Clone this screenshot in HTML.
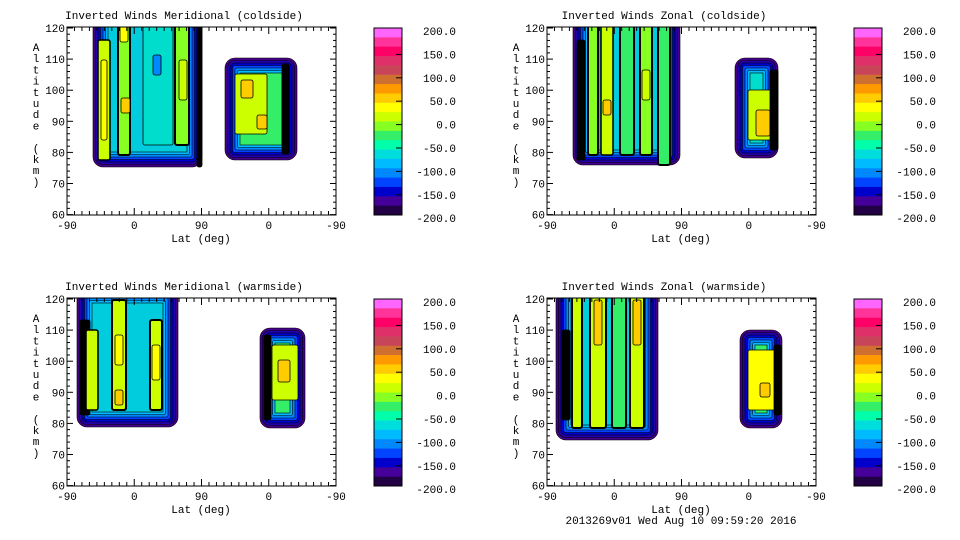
<!DOCTYPE html>
<html><head><meta charset="utf-8"><style>
body{margin:0;background:#fff;}
svg{display:block;font-family:"Liberation Mono","DejaVu Sans Mono",monospace;}
</style></head><body>
<svg id="s" width="960" height="540" xmlns="http://www.w3.org/2000/svg"></svg>
<script>
const S=document.getElementById('s');let h='';
const cols=['#ff66ff','#ff3399','#ff0066','#e0306a','#c84458','#d07030','#ff9900','#ffcc00','#ffff00','#ccff00','#88ff22','#33ee66','#00ffaa','#00dddd','#00bbff','#0088ff','#0044ff','#0000cc','#440099','#220044'];
function blob(x,y,w,ht,inner,stripes){
 const ring=['#440088','#2200aa','#0000cc','#0044ff','#0088ff','#00bbff'];
 let r='';
 ring.forEach((c,i)=>{const d=i*2.5;r+=`<rect x="${x+d}" y="${y+d}" width="${w-2*d}" height="${ht-2*d}" rx="${Math.max(2,10-d)}" fill="${c}" stroke="#000" stroke-width="0.6"/>`;});
 const d=15;
 r+=`<rect x="${x+d}" y="${y+d}" width="${w-2*d}" height="${ht-2*d}" fill="${inner}" stroke="#000" stroke-width="0.6"/>`;
 stripes.forEach(s=>{r+=`<rect x="${s[0]}" y="${s[1]}" width="${s[2]}" height="${s[3]}" rx="2" fill="${s[4]}" stroke="#000" stroke-width="${s[5]||0.8}"/>`;});
 return r;
}
function panel(ox,oy,title,blobs){
 let r='';
 r+=`<text x="${ox+117}" y="${oy-8}" font-size="11" text-anchor="middle">${title}</text>`;
 r+=`<clipPath id="c${ox}${oy}"><rect x="${ox}" y="${oy}" width="269" height="188"/></clipPath>`;
 r+=`<g clip-path="url(#c${ox}${oy})">${blobs}</g>`;
 r+=`<rect x="${ox}" y="${oy}" width="269" height="188" fill="none" stroke="#000" stroke-width="1"/>`;
 for(let i=0;i<=6;i++){const yy=oy+1+i*31.1;const v=120-i*10;
  r+=`<line x1="${ox}" y1="${yy}" x2="${ox+6}" y2="${yy}" stroke="#000"/><line x1="${ox+269}" y1="${yy}" x2="${ox+263}" y2="${yy}" stroke="#000"/>`;
  r+=`<text x="${ox-2}" y="${yy+4}" font-size="11" text-anchor="end">${v}</text>`;
  if(i<6)for(let k=1;k<5;k++){const y2=yy+k*6.22;r+=`<line x1="${ox}" y1="${y2}" x2="${ox+3}" y2="${y2}" stroke="#000"/><line x1="${ox+269}" y1="${y2}" x2="${ox+266}" y2="${y2}" stroke="#000"/>`;}
 }
 const xl=['-90','0','90','0','-90'];
 for(let i=0;i<=4;i++){const xx=ox+i*67.25;
  r+=`<line x1="${xx}" y1="${oy+188}" x2="${xx}" y2="${oy+181}" stroke="#000"/><line x1="${xx}" y1="${oy}" x2="${xx}" y2="${oy+7}" stroke="#000"/>`;
  r+=`<text x="${xx}" y="${oy+202}" font-size="11" text-anchor="middle">${xl[i]}</text>`;
  if(i<4)for(let k=1;k<9;k++){const x2=xx+k*67.25/9;r+=`<line x1="${x2}" y1="${oy+188}" x2="${x2}" y2="${oy+184}" stroke="#000"/><line x1="${x2}" y1="${oy}" x2="${x2}" y2="${oy+4}" stroke="#000"/>`;}
 }
 r+=`<text x="${ox+134}" y="${oy+215}" font-size="11" text-anchor="middle">Lat (deg)</text>`;
 const lab='Altitude (km)';
 for(let i=0;i<lab.length;i++)r+=`<text x="${ox-31}" y="${oy+24+i*11.2}" font-size="11" text-anchor="middle">${lab[i]}</text>`;
 const bx=ox+307,by=oy+1,bh=187;
 cols.forEach((c,i)=>{r+=`<rect x="${bx}" y="${by+i*bh/20}" width="28" height="${bh/20+0.5}" fill="${c}"/>`;});
 r+=`<rect x="${bx}" y="${by}" width="28" height="${bh}" fill="none" stroke="#000"/>`;
 const cl=['200.0','150.0','100.0','50.0','0.0','-50.0','-100.0','-150.0','-200.0'];
 cl.forEach((t,i)=>{const yy=by+3+i*23.4;r+=`<text x="${ox+389}" y="${yy+4}" font-size="11" text-anchor="end">${t}</text>`;if(i>0&&i<8)r+=`<line x1="${bx+22}" y1="${yy}" x2="${bx+28}" y2="${yy}" stroke="#000"/>`;});
 return r;
}
let b1=blob(93,12,109,155,'#00ccdd',[[98,40,12,120,'#ccff00',1.5],[101,60,6,80,'#ffff00'],[118,12,12,143,'#88ff22',2],[121,98,9,15,'#ffcc00'],[120,22,8,20,'#ffff00'],[143,12,30,133,'#00ddcc'],[153,55,8,20,'#0088ff'],[175,12,14,133,'#88ff22',2],[179,60,8,40,'#ccff00'],[197,12,5,155,'#000']])
 +blob(225,58,72,102,'#33ee66',[[235,74,32,60,'#ccff00'],[241,80,12,18,'#ffcc00'],[257,115,10,14,'#ffcc00'],[282,64,7,90,'#000',0]]);
h+=panel(67,27,'Inverted Winds Meridional (coldside)',b1);
let b2=blob(573,12,107,153,'#00ccdd',[[577,40,8,120,'#000',0],[588,12,10,143,'#88ff22',2],[601,12,12,143,'#ccff00',1.5],[603,100,8,15,'#ffcc00'],[620,12,14,143,'#33ee66',2],[640,12,12,143,'#88ff22',2],[642,70,8,30,'#ccff00'],[658,12,12,153,'#33ee66',2]])
 +blob(735,58,43,100,'#00ddcc',[[748,90,25,50,'#ccff00'],[756,110,14,26,'#ffcc00'],[770,70,8,80,'#000',0]]);
h+=panel(547,27,'Inverted Winds Zonal (coldside)',b2);
let b3=blob(77,288,101,139,'#00ccdd',[[80,320,10,95,'#000',0],[86,330,12,80,'#ccff00',1.5],[112,300,14,110,'#ccff00',2],[115,335,8,30,'#ffff00'],[115,390,8,15,'#ffcc00'],[150,320,12,90,'#ccff00',2],[152,345,8,35,'#ffff00']])
 +blob(260,328,45,100,'#33ee66',[[264,335,7,85,'#000',0],[272,345,26,55,'#ccff00'],[278,360,12,22,'#ffcc00']]);
h+=panel(67,298,'Inverted Winds Meridional (warmside)',b3);
let b4=blob(556,283,102,157,'#00ccdd',[[562,330,8,90,'#000',0],[572,285,10,143,'#ccff00',2],[590,285,16,143,'#ccff00',2],[594,300,8,45,'#ffcc00'],[612,285,14,143,'#33ee66',2],[630,285,14,143,'#ccff00',2],[633,300,8,45,'#ffcc00']])
 +blob(740,330,42,98,'#33ee66',[[748,350,28,60,'#ffff00'],[760,383,10,14,'#ffcc00'],[774,345,7,70,'#000',0]]);
h+=panel(547,298,'Inverted Winds Zonal (warmside)',b4);
h+=`<text x="681" y="524" font-size="11" text-anchor="middle">2013269v01 Wed Aug 10 09:59:20 2016</text>`;
S.innerHTML=h;
</script>
</body></html>
